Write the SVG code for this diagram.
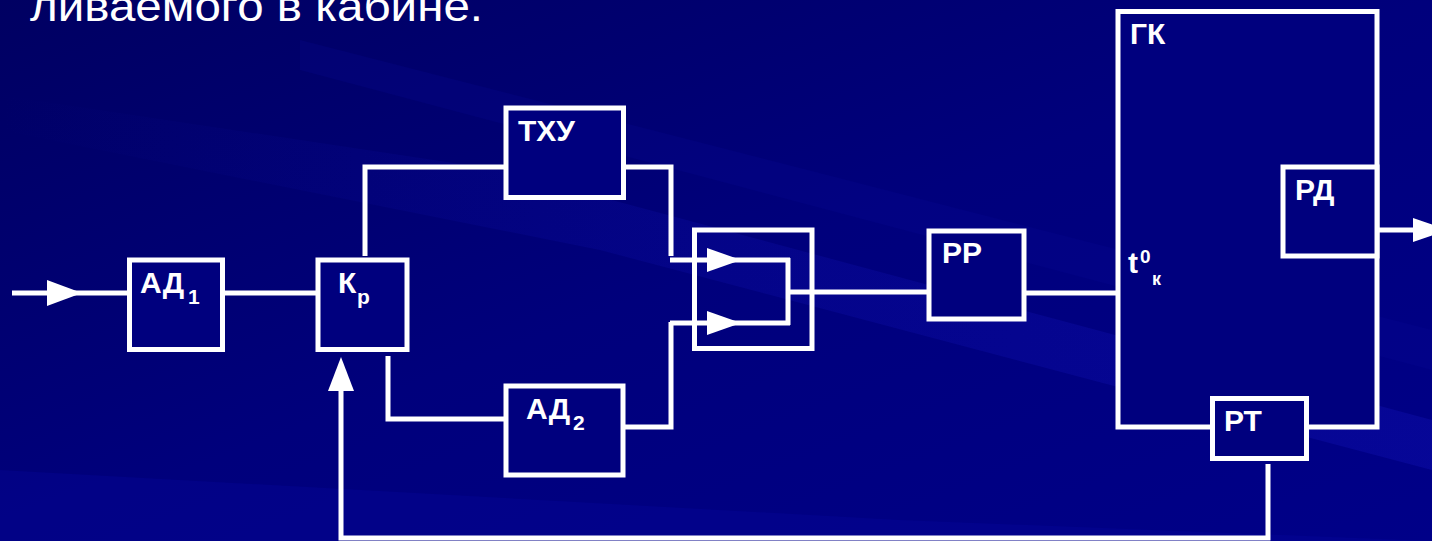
<svg xmlns="http://www.w3.org/2000/svg" width="1432" height="541" viewBox="0 0 1432 541">
<defs>
<linearGradient id="bg" x1="0" y1="0" x2="1" y2="1">
<stop offset="0" stop-color="#000062"/>
<stop offset="0.5" stop-color="#00007c"/>
<stop offset="1" stop-color="#000088"/>
</linearGradient>
<linearGradient id="streak" x1="0" y1="0" x2="1" y2="0">
<stop offset="0" stop-color="#1010b0" stop-opacity="0"/>
<stop offset="0.5" stop-color="#1010b0" stop-opacity="0.5"/>
<stop offset="1" stop-color="#1010b0" stop-opacity="0.8"/>
</linearGradient>
<style>
.box{fill:#00007e;stroke:#ffffff;stroke-width:5}
.ln{fill:none;stroke:#ffffff;stroke-width:5}
.ah{fill:#ffffff}
.lbl{font-family:"Liberation Sans",Arial,sans-serif;font-weight:bold;font-size:30px;fill:#ffffff}
.sub{font-family:"Liberation Sans",Arial,sans-serif;font-weight:bold;font-size:21px;fill:#ffffff}
.title{font-family:"Liberation Sans",Arial,sans-serif;font-size:42px;fill:#ffffff}
</style>
</defs>
<rect width="1432" height="541" fill="url(#bg)"/>
<polygon points="0,95 500,170 1432,420 1432,470 600,250 0,130" fill="url(#streak)" opacity="0.5"/>
<polygon points="300,40 1432,330 1432,370 300,70" fill="#0a0a9a" opacity="0.2"/>
<polygon points="0,470 900,520 1432,541 0,541" fill="#0606a0" opacity="0.3"/>
<text class="title" x="30" y="21" textLength="453" lengthAdjust="spacingAndGlyphs">ливаемого в кабине.</text>
<g id="connectors">
<line class="ln" x1="12" y1="293" x2="127" y2="293"/>
<polygon class="ah" points="47,280 82,293 47,306"/>
<line class="ln" x1="222" y1="293" x2="318" y2="293"/>
<polyline class="ln" points="365,256 365,167 506,167"/>
<polyline class="ln" points="623,167 671,167 671,256"/>
<line class="ln" x1="670" y1="260" x2="790" y2="260"/>
<polygon class="ah" points="707,248 741,260 707,272"/>
<polyline class="ln" points="388,356 388,419 506,419"/>
<polyline class="ln" points="623,427 671,427 671,322"/>
<line class="ln" x1="670" y1="323" x2="790" y2="323"/>
<polygon class="ah" points="707,311 741,323 707,335"/>
<line class="ln" x1="788" y1="258" x2="788" y2="325"/>
<line class="ln" x1="788" y1="292" x2="929" y2="292"/>
<line class="ln" x1="1024" y1="293" x2="1118" y2="293"/>
<line class="ln" x1="1377" y1="230" x2="1413" y2="230"/>
<polygon class="ah" points="1413,218 1448,230 1413,242"/>
<polyline class="ln" points="1268,464 1268,538 341,538 341,388"/>
<polygon class="ah" points="328,391 341,357 354,391"/>
</g>
<g id="switch"><rect class="box" x="694.5" y="230" width="117.5" height="118.5" style="fill:none"/></g>
<g id="AD1"><rect class="box" x="129.5" y="260" width="93" height="89.5"/><text class="lbl" x="140" y="293">АД</text><text class="sub" x="188" y="304">1</text></g>
<g id="Kp"><rect class="box" x="318" y="260" width="89" height="89.5"/><text class="lbl" x="338" y="293">К</text><text class="sub" x="357" y="304">р</text></g>
<g id="TXU"><rect class="box" x="506" y="108" width="117.5" height="89.5"/><text class="lbl" x="518" y="141">ТХУ</text></g>
<g id="AD2"><rect class="box" x="506" y="386" width="117" height="89"/><text class="lbl" x="526" y="419">АД</text><text class="sub" x="573" y="430">2</text></g>
<g id="PP"><rect class="box" x="929" y="231" width="95" height="88"/><text class="lbl" x="942" y="263">РР</text></g>
<g id="GK"><rect class="box" x="1118" y="11.5" width="259" height="415.5"/><text class="lbl" x="1130" y="44">ГК</text>
<text class="lbl" x="1128" y="273">t</text><text class="sub" x="1140" y="263" style="font-size:19px">0</text><text class="sub" x="1152" y="285" style="font-size:18px">к</text></g>
<g id="RD"><rect class="box" x="1283" y="167" width="94" height="89"/><text class="lbl" x="1295" y="200">РД</text></g>
<g id="RT"><rect class="box" x="1212.5" y="398.5" width="94" height="60"/><text class="lbl" x="1224" y="431">РТ</text></g>
</svg>
